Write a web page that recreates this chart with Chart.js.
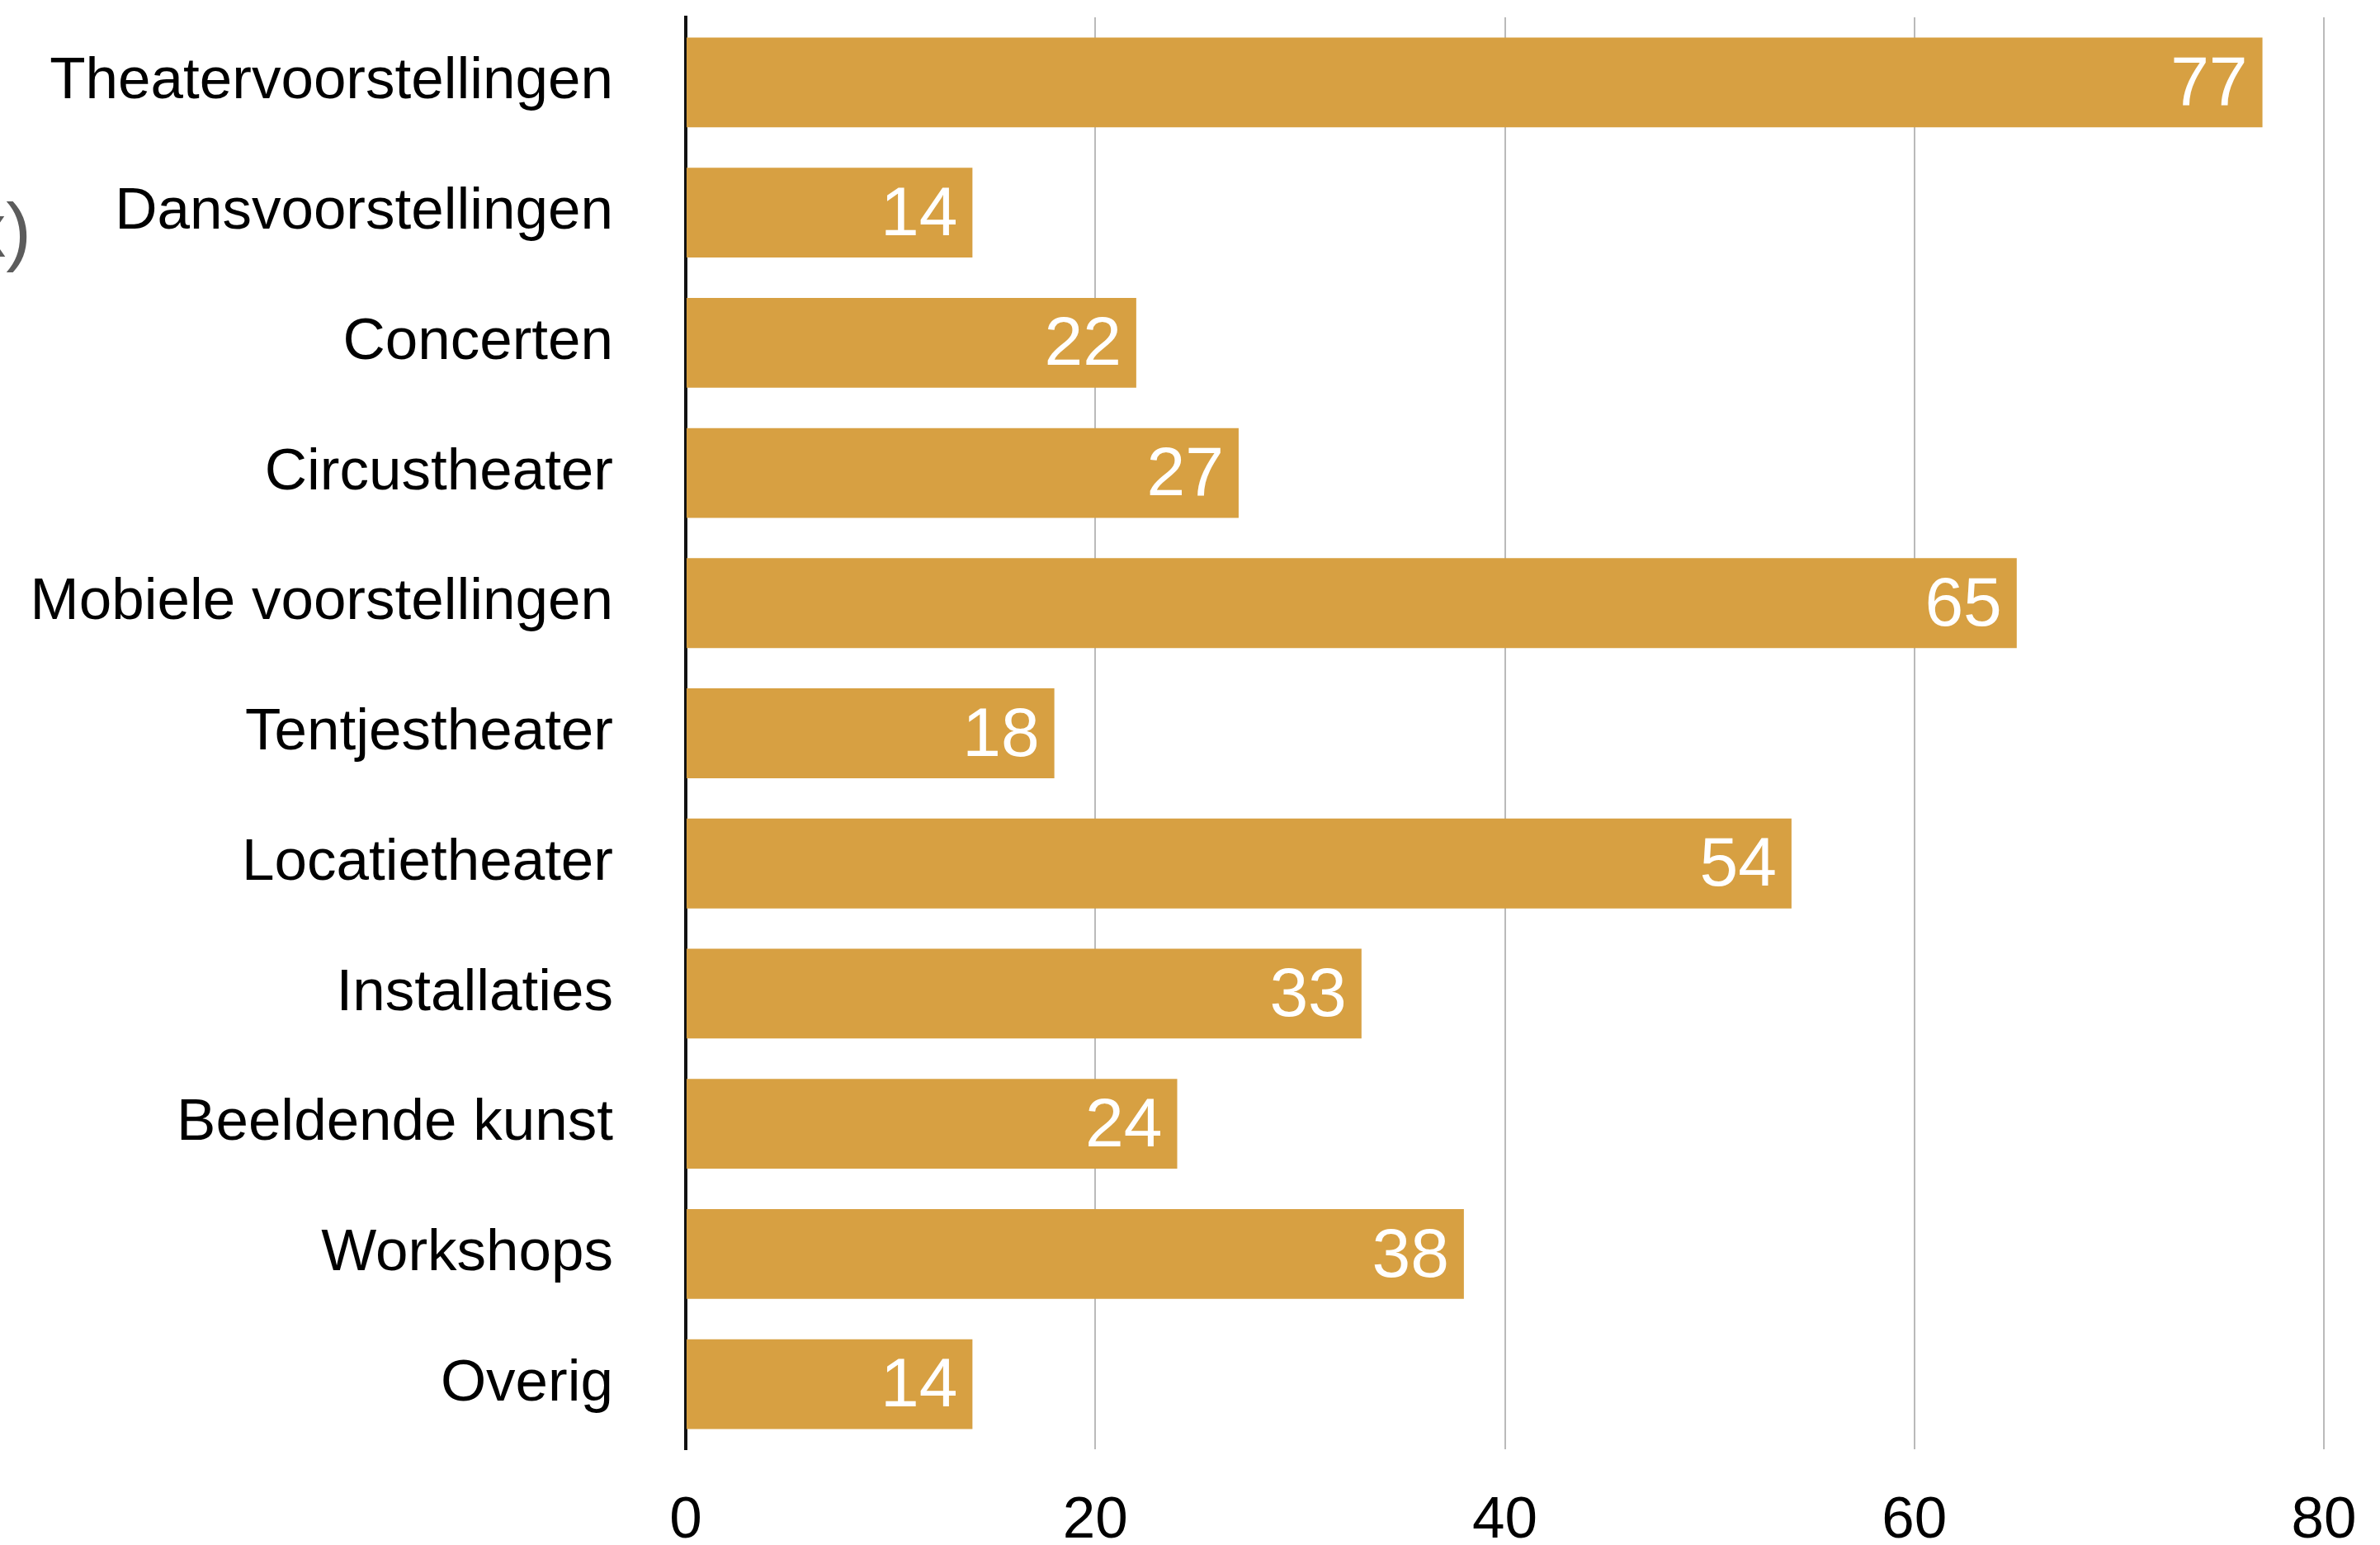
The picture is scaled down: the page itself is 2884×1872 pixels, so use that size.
<!DOCTYPE html>
<html>
<head>
<meta charset="utf-8">
<script src="https://cdn.jsdelivr.net/npm/chart.js@4.4.1/dist/chart.umd.min.js"></script>
<style>
  html, body { margin: 0; padding: 0; background: #fff; }
  #wrap { width: 2884px; height: 1872px; }
</style>
</head>
<body>
<div id="wrap"><canvas id="barChart" width="2884" height="1872"></canvas></div>
<script>
const categories = ['Theatervoorstellingen', 'Dansvoorstellingen', 'Concerten', 'Circustheater',
    'Mobiele voorstellingen', 'Tentjestheater', 'Locatietheater', 'Installaties',
    'Beeldende kunst', 'Workshops', 'Overig'];
const counts = [77, 14, 22, 27, 65, 18, 54, 33, 24, 38, 14];
const xTicks = [0, 20, 40, 60, 80];

const barColor = '#D7A042';
const fontFamily = '"Liberation Sans", Arial, Helvetica, sans-serif';

// white value labels inside the bar end
const valueLabels = {
    id: 'valueLabels',
    afterDatasetsDraw(chart) {
        const ctx = chart.ctx;
        const meta = chart.getDatasetMeta(0);
        ctx.save();
        ctx.fillStyle = '#ffffff';
        ctx.font = '84px ' + fontFamily;
        ctx.textAlign = 'right';
        ctx.textBaseline = 'middle';
        meta.data.forEach(function(bar, i) {
            ctx.fillText(String(counts[i]), bar.x - 18, bar.y + 4);
        });
        ctx.restore();
    }
};

// cut-off text fragment at the left edge
const edgeText = {
    id: 'edgeText',
    afterDraw(chart) {
        const ctx = chart.ctx;
        ctx.save();
        ctx.fillStyle = '#5c5c5c';
        ctx.font = '92px ' + fontFamily;
        ctx.textAlign = 'right';
        ctx.textBaseline = 'middle';
        ctx.fillText('x)', 38, 286);
        ctx.restore();
    }
};

const ctx = document.getElementById('barChart').getContext('2d');
const barChart = new Chart(ctx, {
    type: 'bar',
    data: {
        labels: categories,
        datasets: [{
            data: counts,
            backgroundColor: barColor,
            borderWidth: 0,
            categoryPercentage: 0.69,
            barPercentage: 1.0
        }]
    },
    options: {
        indexAxis: 'y',
        responsive: false,
        animation: false,
        layout: { padding: { top: 21, right: 68, left: 0, bottom: 0 } },
        plugins: {
            legend: { display: false },
            tooltip: { enabled: false }
        },
        scales: {
            x: {
                min: 0,
                max: 80,
                afterBuildTicks: function(scale) {
                    scale.ticks = xTicks.map(v => ({ value: v }));
                },
                afterFit: function(scale) {
                    scale.height = 116;
                    scale.paddingLeft = 0;
                    scale.paddingRight = 0;
                },
                grid: { color: '#bababa', lineWidth: 2, drawTicks: false },
                border: { display: false },
                ticks: {
                    color: '#000',
                    padding: 45,
                    font: { family: fontFamily, size: 71 }
                }
            },
            y: {
                afterFit: function(scale) {
                    scale.width = 831;
                    scale.paddingTop = 0;
                    scale.paddingBottom = 0;
                },
                grid: { display: false, drawTicks: false },
                border: { display: true, color: '#111', width: 4 },
                ticks: {
                    color: '#000',
                    padding: 88,
                    font: { family: fontFamily, size: 71 }
                }
            }
        }
    },
    plugins: [valueLabels, edgeText]
});
</script>
</body>
</html>
